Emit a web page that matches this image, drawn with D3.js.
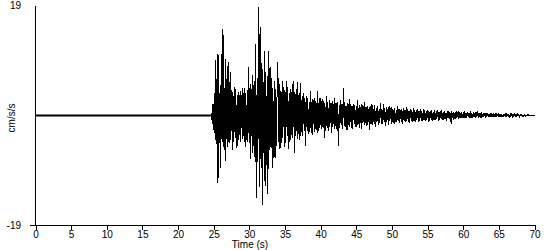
<!DOCTYPE html>
<html><head><meta charset="utf-8">
<script src="https://cdn.jsdelivr.net/npm/d3@7/dist/d3.min.js"></script>
<style>
html,body{margin:0;padding:0;background:#fff;}
svg{display:block;}
text{font-family:"Liberation Sans",Arial,sans-serif;font-size:10px;fill:#000;}
</style></head>
<body>
<svg id="chart" width="550" height="250"></svg>
<script>
// ---- data ----
const xTicks = [0,5,10,15,20,25,30,35,40,45,50,55,60,65,70];
const yTickLabels = [19, -19];
const xTitle = "Time (s)";
const yTitle = "cm/s/s";
// quiet part before the first arrival
const preTime = [0, 24.6];
const preValues = [0, 0];
// acceleration samples (cm/s/s), first sample at 24.6 s, one every 0.1 s
const startTime = 24.6;
const sampleStep = 0.1;
const accel = [
 0, 0.4, -1.5, 2.0,
 -2.5, 3.8, -4.2, 9.5, -5.0, 10.7, -11.6, 10.4, -4.8, 5.2,     // 25
 -9.0, 10.7, -4.5, 15.0, -5.5, 4.8, -7.8, 9.8, -4.0, 8.6,      // 26
 -5.5, 9.2, -4.8, 7.5, -4.2, 4.4, -6.0, 4.0, -4.6, 5.0,        // 27
 -3.8, 4.5, -5.6, 3.6, -5.2, 4.0, -3.4, 4.2, -4.5, 3.6,        // 28
 -4.0, 4.8, -3.6, 4.8, -5.5, 3.8, -4.2, 4.4, -4.6, 8.3,        // 29
 -4.8, 5.5, -7.5, 4.6, -6.5, 7.0, -5.2, 6.0, -8.0, 12.4,       // 30
 -14.2, 6.5, -8.0, 18.8, -12.4, 15.2, -7.5, 9.0, -15.4, 8.0,   // 31
 -6.5, 11.2, -12.1, 7.5, -8.5, 6.8, -13.5, 11.2, -6.0, 8.3,    // 32
 -5.5, 6.5, -9.0, 4.8, -7.3, 6.0, -7.3, 4.5, -5.2, 5.5,        // 33
 9.2, -4.5, 5.5, -5.8, 4.2, -4.8, 6.0, -3.8, 5.0, -5.5,        // 34
 4.4, -4.8, 6.0, -3.6, 5.0, -5.8, 3.8, -4.5, 4.6, -3.4,        // 35
 5.5, -3.8, 6.0, -6.4, 4.0, -3.5, 4.5, -4.0, 5.7, -3.2,        // 36
 3.8, -4.2, 5.6, -2.8, 3.4, -3.5, 3.8, -2.6, 3.0, -5.2,        // 37
 3.4, -2.6, 3.0, -3.2, 2.4, -2.8, 4.3, -3.0, 2.8, -3.4,        // 38
 2.6, -2.8, 3.0, -2.4, 2.2, -3.0, 4.3, -2.6, 3.1, -2.2,        // 39
 3.1, -2.4, 2.8, -2.0, 2.5, -3.8, 2.2, -2.6, 3.3, -2.1,        // 40
 2.4, -2.6, 2.7, -1.9, 2.2, -3.1, 2.5, -2.0, 1.9, -2.4,        // 41
 3.0, -1.8, 2.2, -2.6, 2.4, -5.2, 1.8, -2.2, 2.6, -1.7,        // 42
 2.0, -2.3, 4.7, -1.8, 2.4, -2.0, 1.7, -2.5, 2.2, -1.6,        // 43
 2.9, -1.9, 2.0, -2.2, 1.6, -2.4, 2.0, -1.5, 1.8, -2.0,        // 44
 1.6, -1.9, 2.6, -1.4, 1.8, -2.1, 1.5, -2.3, 1.9, -1.3,        // 45
 1.7, -1.6, 2.4, -1.3, 1.5, -1.8, 1.7, -1.2, 1.4, -2.5,        // 46
 1.6, -1.4, 2.0, -1.6, 1.2, -1.5, 1.8, -2.0, 1.3, -1.2,        // 47
 1.6, -1.7, 1.2, -1.3, 2.1, -1.5, 1.1, -1.4, 1.9, -1.1,        // 48
 1.3, -1.8, 1.5, -1.1, 1.2, -1.6, 1.7, -1.0, 1.3, -1.4,        // 49
 1.4, -1.1, 1.0, -1.5, 1.3, -1.2, 0.9, -1.2, 1.6, -1.0,        // 50
 1.2, -1.3, 0.9, -1.1, 1.2, -1.4, 1.3, -0.9, 1.0, -1.1,        // 51
 1.5, -1.0, 1.1, -1.2, 0.8, -1.3, 1.2, -0.9, 1.0, -1.1,        // 52
 1.3, -1.0, 0.9, -1.1, 1.0, -0.8, 1.2, -1.2, 0.8, -0.9,        // 53
 1.1, -0.9, 0.8, -1.0, 1.2, -0.8, 0.9, -1.0, 0.7, -0.8,        // 54
 1.0, -1.1, 0.7, -0.9, 0.8, -0.7, 0.9, -1.0, 0.6, -0.8,        // 55
 0.9, -0.8, 0.7, -0.6, 1.0, -0.9, 0.6, -0.7, 0.8, -0.6,        // 56
 0.9, -0.8, 0.6, -0.7, 0.8, -0.6, 0.5, -0.9, 0.7, -0.5,        // 57
 0.7, -0.6, 0.5, -1.4, 0.8, -0.5, 0.6, -0.7, 0.5, -0.6,        // 58
 0.8, -0.5, 0.6, -0.6, 0.7, -0.4, 0.5, -0.5, 0.6, -0.4,        // 59
 0.6, -0.5, 0.7, -0.4, 0.5, -0.5, 0.6, -0.3, 0.5, -0.4,        // 60
 0.8, -0.4, 0.5, -0.5, 0.6, -0.3, 0.4, -0.4, 0.6, -0.3,        // 61
 0.7, -0.4, 0.5, -0.3, 0.4, -0.4, 0.6, -0.3, 0.4, -0.3,        // 62
 0.5, -0.4, 0.4, -0.3, 0.5, -0.3, 0.3, -0.3, 0.4, -0.2,        // 63
 0.4, -0.3, 0.5, -0.3, 0.3, -0.2, 0.4, -0.3, 0.3, -0.2,        // 64
 0.4, -0.3, 0.3, -0.2, 0.3, -0.3, 0.2, -0.2, 0.3, -0.2,        // 65
 0.4, -0.2, 0.3, -0.2, 0.2, -0.2, 0.3, -0.15, 0.2, -0.2,       // 66
 0.3, -0.2, 0.2, -0.15, 0.2, -0.15, 0.2, -0.1, 0.15, -0.15,    // 67
 0.2, -0.1, 0.15, -0.1, 0.1, -0.1, 0.15, -0.1, 0.1, -0.05,     // 68
 0.1, -0.05, 0.1, -0.05, 0.05, -0.05, 0.05, -0.05, 0.05, 0,    // 69
 0                                                             // 70
];

// ---- chart ----
const svg = d3.select("#chart");
const x = d3.scaleLinear().domain([0, 70]).range([35.5, 534.5]);
const y = d3.scaleLinear().domain([-19, 19]).range([225.5, 5.5]);

const series = accel.map((v, i) => ({t: startTime + i * sampleStep, v}));
const pre = preTime.map((t, i) => ({t, v: preValues[i]}));
const line = d3.line().x(d => x(d.t)).y(d => y(d.v));

svg.append("path").datum(pre).attr("d", line)
  .attr("fill", "none").attr("stroke", "#000").attr("stroke-width", 2);
svg.append("path").datum(series).attr("d", line)
  .attr("fill", "none").attr("stroke", "#000").attr("stroke-width", 1)
  .attr("shape-rendering", "crispEdges");

// x axis
const xAxis = d3.axisBottom(x).tickValues(xTicks).tickSize(5).tickSizeOuter(0).tickPadding(1);
const gx = svg.append("g").attr("transform", "translate(0,225)").call(xAxis);
gx.select(".domain").attr("shape-rendering", "crispEdges");
gx.selectAll(".tick line").attr("shape-rendering", "crispEdges");
gx.selectAll("text").attr("font-size", 10).attr("font-family", "Liberation Sans, Arial, sans-serif");
svg.append("line").attr("x1", 30).attr("x2", 35.5).attr("y1", 225.5).attr("y2", 225.5)
  .attr("stroke", "#000").attr("shape-rendering", "crispEdges");

// y axis line
svg.append("line").attr("x1", x(0)).attr("x2", x(0)).attr("y1", y(19)).attr("y2", y(-19))
  .attr("stroke", "#000").attr("shape-rendering", "crispEdges");
svg.selectAll(".ylab").data(yTickLabels).enter().append("text")
  .attr("class", "ylab").attr("x", 21).attr("y", d => y(d)).attr("dy", "0.35em")
  .attr("text-anchor", "end").text(d => d);

// titles
svg.append("text").attr("x", 250).attr("y", 248).attr("text-anchor", "middle").text(xTitle);
svg.append("text").attr("transform", "translate(15,118) rotate(-90)")
  .attr("text-anchor", "middle").text(yTitle);
</script>
</body></html>
